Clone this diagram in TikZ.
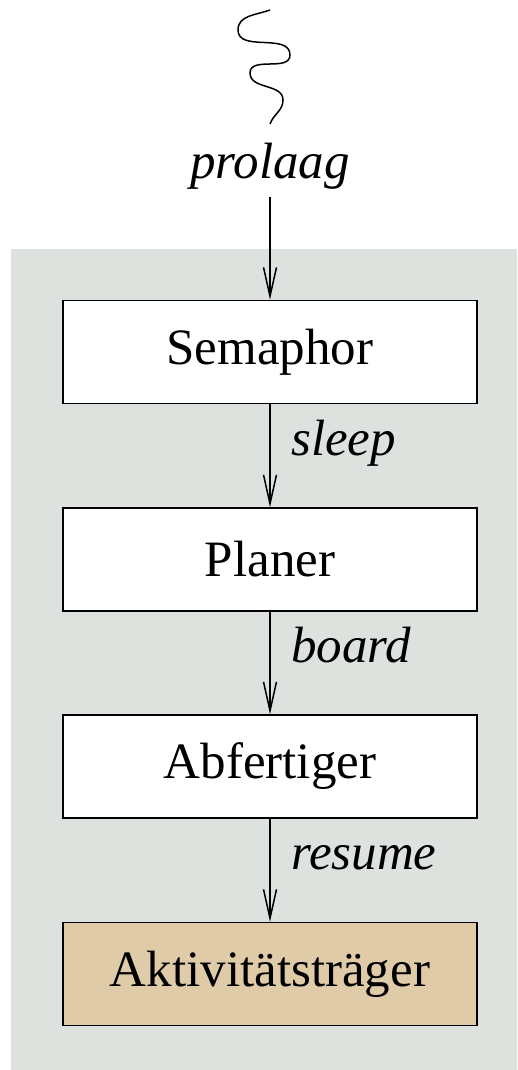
\documentclass[tikz,border=0pt]{standalone}
\usepackage{fontspec}
\setmainfont{Liberation Serif}
\usetikzlibrary{arrows.meta}
\definecolor{clustergray}{RGB}{222,226,223}
\definecolor{tan}{RGB}{223,203,167}
\begin{document}
\begin{tikzpicture}[x=1pt,y=-1pt,
  box/.style={draw=black,line width=1.5pt,fill=white,minimum width=414pt,minimum height=103pt,inner sep=0pt,font=\fontsize{51}{60}\selectfont},
  lbl/.style={anchor=base west,inner sep=0pt,font=\fontsize{51}{60}\selectfont\itshape},
  edge/.style={line width=1.5pt,-{Straight Barb[length=29pt,width=13pt,line width=1.5pt]}}]
\useasboundingbox (0,0) rectangle (517,1070);
\fill[clustergray] (11,249) rectangle (517,1070);
\node[box] (sem) at (270,352) {Semaphor};
\node[box] (plan) at (270,559.5) {Planer};
\node[box] (abf) at (270,766.5) {Abfertiger};
\node[box,fill=tan] (akt) at (270,974) {Aktivitätsträger};
\node[anchor=base,inner sep=0pt,font=\fontsize{51}{60}\selectfont\itshape] (pro) at (270,178) {prolaag};
\coordinate (sqtop) at (270,10);
\coordinate (sqend) at (270,124);
\coordinate (proout) at (270,197);
\draw[line width=1.5pt] (sqtop) to[out=200,in=90] (238,30) to[out=-90,in=90] (290,55) to[out=-90,in=90] (250,73) to[out=-90,in=90] (283,100) to[out=-90,in=70] (sqend);
\draw[edge] (proout) -- (sem.north);
\draw[edge] (sem.south) -- (plan.north);
\draw[edge] (plan.south) -- (abf.north);
\draw[edge] (abf.south) -- (akt.north);
\node[lbl] (l1) at (291,455) {sleep};
\node[lbl] (l2) at (291,662) {board};
\node[lbl] (l3) at (291,869) {resume};
\end{tikzpicture}
\end{document}
